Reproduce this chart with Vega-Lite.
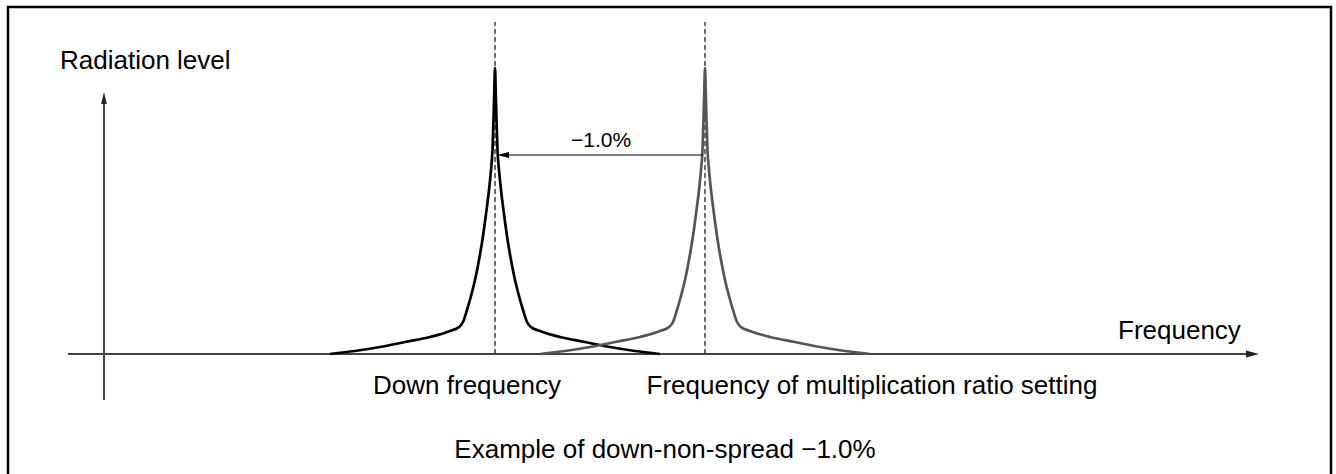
{
  "$schema": "https://vega.github.io/schema/vega-lite/v6.json",
  "width": 1336,
  "height": 474,
  "padding": 0,
  "autosize": {"type": "fit", "contains": "padding"},
  "background": "white",
  "config": {"view": {"stroke": null}},
  "datasets": {
    "curves": [
      {"f": 226, "L": 0, "s": "down"}, {"f": 251, "L": 3, "s": "down"}, {"f": 276, "L": 7, "s": "down"}, {"f": 301, "L": 12, "s": "down"}, {"f": 326, "L": 17, "s": "down"}, {"f": 346, "L": 23, "s": "down"}, {"f": 355, "L": 27, "s": "down"}, {"f": 359, "L": 32, "s": "down"}, {"f": 363, "L": 44, "s": "down"}, {"f": 367, "L": 58, "s": "down"}, {"f": 371, "L": 74, "s": "down"}, {"f": 375, "L": 94, "s": "down"}, {"f": 379, "L": 118, "s": "down"}, {"f": 382, "L": 140, "s": "down"}, {"f": 385, "L": 164, "s": "down"}, {"f": 387, "L": 184, "s": "down"}, {"f": 388.5, "L": 204, "s": "down"}, {"f": 389.5, "L": 234, "s": "down"}, {"f": 390.3, "L": 264, "s": "down"}, {"f": 391, "L": 286, "s": "down"}, {"f": 391.7, "L": 264, "s": "down"}, {"f": 392.5, "L": 234, "s": "down"}, {"f": 393.5, "L": 204, "s": "down"}, {"f": 395, "L": 184, "s": "down"}, {"f": 397, "L": 164, "s": "down"}, {"f": 400, "L": 140, "s": "down"}, {"f": 403, "L": 118, "s": "down"}, {"f": 407, "L": 94, "s": "down"}, {"f": 411, "L": 74, "s": "down"}, {"f": 415, "L": 58, "s": "down"}, {"f": 419, "L": 44, "s": "down"}, {"f": 423, "L": 32, "s": "down"}, {"f": 427, "L": 27, "s": "down"}, {"f": 436, "L": 23, "s": "down"}, {"f": 456, "L": 17, "s": "down"}, {"f": 481, "L": 12, "s": "down"}, {"f": 506, "L": 7, "s": "down"}, {"f": 531, "L": 3, "s": "down"}, {"f": 556, "L": 0, "s": "down"},
      {"f": 436, "L": 0, "s": "set"}, {"f": 461, "L": 3, "s": "set"}, {"f": 486, "L": 7, "s": "set"}, {"f": 511, "L": 12, "s": "set"}, {"f": 536, "L": 17, "s": "set"}, {"f": 556, "L": 23, "s": "set"}, {"f": 565, "L": 27, "s": "set"}, {"f": 569, "L": 32, "s": "set"}, {"f": 573, "L": 44, "s": "set"}, {"f": 577, "L": 58, "s": "set"}, {"f": 581, "L": 74, "s": "set"}, {"f": 585, "L": 94, "s": "set"}, {"f": 589, "L": 118, "s": "set"}, {"f": 592, "L": 140, "s": "set"}, {"f": 595, "L": 164, "s": "set"}, {"f": 597, "L": 184, "s": "set"}, {"f": 598.5, "L": 204, "s": "set"}, {"f": 599.5, "L": 234, "s": "set"}, {"f": 600.3, "L": 264, "s": "set"}, {"f": 601, "L": 286, "s": "set"}, {"f": 601.7, "L": 264, "s": "set"}, {"f": 602.5, "L": 234, "s": "set"}, {"f": 603.5, "L": 204, "s": "set"}, {"f": 605, "L": 184, "s": "set"}, {"f": 607, "L": 164, "s": "set"}, {"f": 610, "L": 140, "s": "set"}, {"f": 613, "L": 118, "s": "set"}, {"f": 617, "L": 94, "s": "set"}, {"f": 621, "L": 74, "s": "set"}, {"f": 625, "L": 58, "s": "set"}, {"f": 629, "L": 44, "s": "set"}, {"f": 633, "L": 32, "s": "set"}, {"f": 637, "L": 27, "s": "set"}, {"f": 646, "L": 23, "s": "set"}, {"f": 666, "L": 17, "s": "set"}, {"f": 691, "L": 12, "s": "set"}, {"f": 716, "L": 7, "s": "set"}, {"f": 741, "L": 3, "s": "set"}, {"f": 766, "L": 0, "s": "set"}
    ]
  },
  "encoding": {
    "x": {"type": "quantitative", "scale": {"domain": [-104, 1232], "nice": false, "zero": false}, "axis": null},
    "y": {"type": "quantitative", "scale": {"domain": [-120, 354], "nice": false, "zero": false}, "axis": null}
  },
  "layer": [
    {
      "data": {"values": [{"f": -96, "f2": 1227, "L": 347, "L2": -140}]},
      "mark": {"type": "rect", "fill": null, "filled": false, "stroke": "#000", "strokeWidth": 2.5, "clip": true},
      "encoding": {"x": {"field": "f"}, "x2": {"field": "f2"}, "y": {"field": "L"}, "y2": {"field": "L2"}}
    },
    {
      "data": {"values": [{"f": 0, "f2": 0, "L": -46, "L2": 252}, {"f": -36, "f2": 1145, "L": 0, "L2": 0}]},
      "mark": {"type": "rule", "stroke": "#444", "strokeWidth": 2},
      "encoding": {"x": {"field": "f"}, "x2": {"field": "f2"}, "y": {"field": "L"}, "y2": {"field": "L2"}}
    },
    {
      "data": {"values": [{"f": 391, "L": 0, "L2": 332}, {"f": 601, "L": 0, "L2": 332}]},
      "mark": {"type": "rule", "stroke": "#222", "strokeWidth": 1.3, "strokeDash": [5, 3]},
      "encoding": {"x": {"field": "f"}, "y": {"field": "L"}, "y2": {"field": "L2"}}
    },
    {
      "data": {"name": "curves"},
      "mark": {"type": "line", "interpolate": "monotone", "strokeWidth": 2.7, "strokeJoin": "round"},
      "encoding": {
        "x": {"field": "f"},
        "y": {"field": "L"},
        "color": {"field": "s", "type": "nominal", "scale": {"domain": ["down", "set"], "range": ["#000000", "#555555"]}, "legend": null}
      }
    },
    {
      "data": {"values": [{"f": 404, "f2": 599, "L": 199}]},
      "mark": {"type": "rule", "stroke": "#000", "strokeWidth": 1.2},
      "encoding": {"x": {"field": "f"}, "x2": {"field": "f2"}, "y": {"field": "L"}}
    },
    {
      "data": {"values": [{"f": 0, "L": 262}]},
      "mark": {"type": "point", "shape": "M0,0L-0.24,1L0.24,1Z", "size": 576, "filled": true, "fill": "#222", "stroke": null, "opacity": 1},
      "encoding": {"x": {"field": "f"}, "y": {"field": "L"}}
    },
    {
      "data": {"values": [{"f": 1155, "L": 0}]},
      "mark": {"type": "point", "shape": "M0,0L-1,-0.26L-1,0.26Z", "size": 676, "filled": true, "fill": "#222", "stroke": null, "opacity": 1},
      "encoding": {"x": {"field": "f"}, "y": {"field": "L"}}
    },
    {
      "data": {"values": [{"f": 393, "L": 199}]},
      "mark": {"type": "point", "shape": "M0,0L1,-0.24L1,0.24Z", "size": 576, "filled": true, "fill": "#000", "stroke": null, "opacity": 1},
      "encoding": {"x": {"field": "f"}, "y": {"field": "L"}}
    },
    {
      "data": {"values": [{"f": -44, "L": 285, "t": "Radiation level"}, {"f": 1014, "L": 15, "t": "Frequency"}]},
      "mark": {"type": "text", "align": "left", "baseline": "alphabetic", "font": "Liberation Sans", "fontSize": 26, "color": "#000"},
      "encoding": {"x": {"field": "f"}, "y": {"field": "L"}, "text": {"field": "t"}}
    },
    {
      "data": {"values": [{"f": 363, "L": -40, "t": "Down frequency"}, {"f": 768, "L": -40, "t": "Frequency of multiplication ratio setting"}, {"f": 561, "L": -104, "t": "Example of down-non-spread −1.0%"}]},
      "mark": {"type": "text", "align": "center", "baseline": "alphabetic", "font": "Liberation Sans", "fontSize": 26, "color": "#000"},
      "encoding": {"x": {"field": "f"}, "y": {"field": "L"}, "text": {"field": "t"}}
    },
    {
      "data": {"values": [{"f": 497, "L": 207, "t": "−1.0%"}]},
      "mark": {"type": "text", "align": "center", "baseline": "alphabetic", "font": "Liberation Sans", "fontSize": 21, "color": "#000"},
      "encoding": {"x": {"field": "f"}, "y": {"field": "L"}, "text": {"field": "t"}}
    }
  ]
}
